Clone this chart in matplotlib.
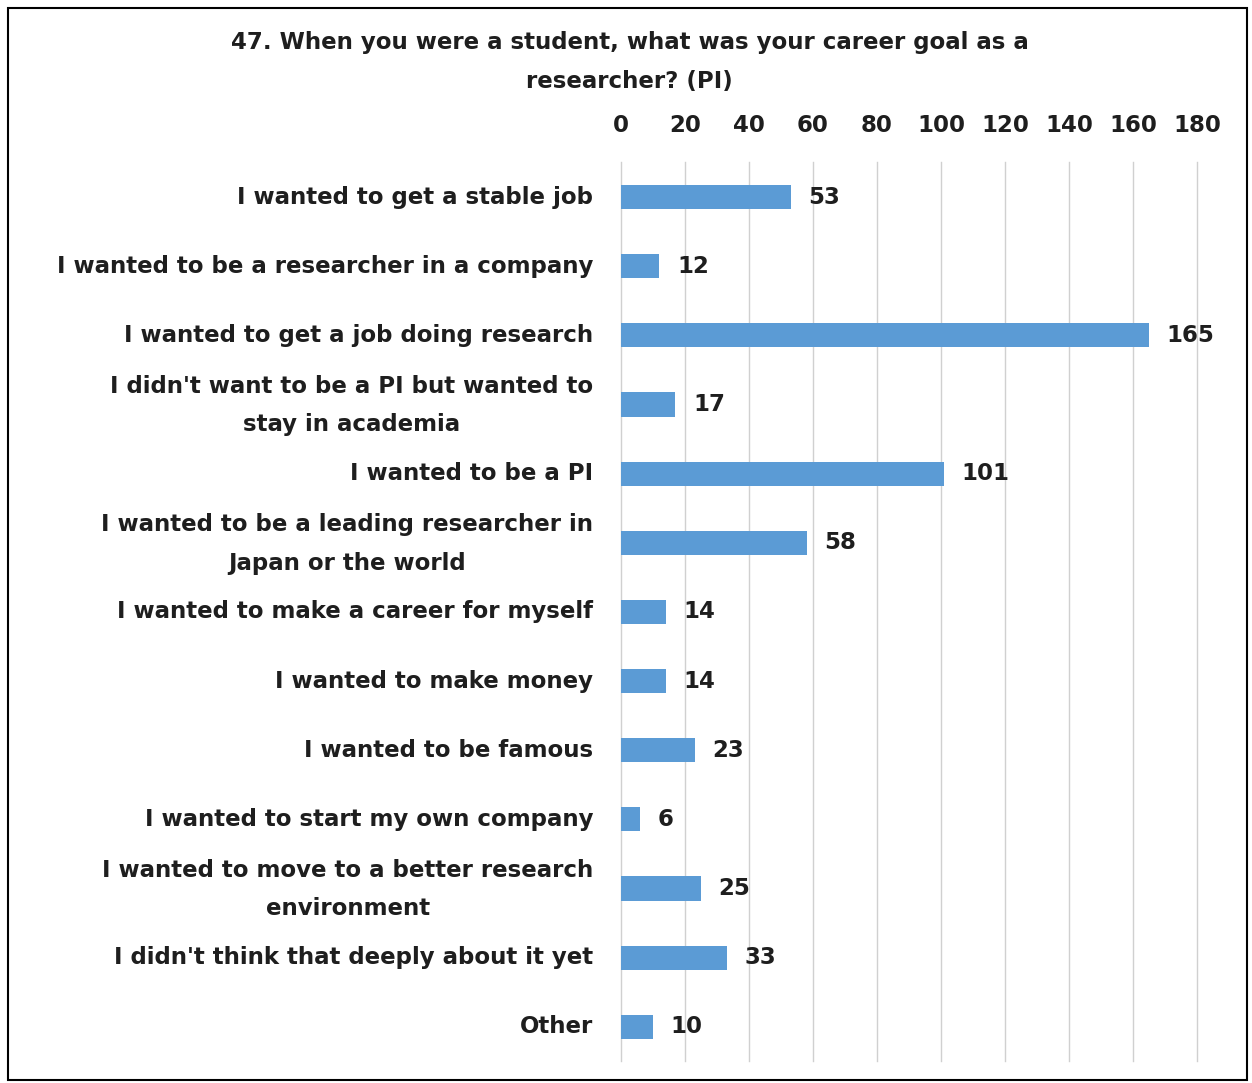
import matplotlib
matplotlib.use("Agg")
import matplotlib.pyplot as plt
from matplotlib.patches import Rectangle
from matplotlib.transforms import ScaledTranslation

# ── data ─────────────────────────────────────────────────────────────────────
categories = [
    "I wanted to get a stable job",
    "I wanted to be a researcher in a company",
    "I wanted to get a job doing research",
    "I didn't want to be a PI but wanted to\nstay in academia",
    "I wanted to be a PI",
    "I wanted to be a leading researcher in\nJapan or the world",
    "I wanted to make a career for myself",
    "I wanted to make money",
    "I wanted to be famous",
    "I wanted to start my own company",
    "I wanted to move to a better research\nenvironment",
    "I didn't think that deeply about it yet",
    "Other",
]
counts = [53, 12, 165, 17, 101, 58, 14, 14, 23, 6, 25, 33, 10]
xticks = [0, 20, 40, 60, 80, 100, 120, 140, 160, 180]
title = "47. When you were a student, what was your career goal as a\nresearcher? (PI)"

BAR = "#5B9BD5"
TXT = "#1e1e1e"
FS = 16.5
plt.rcParams["font.family"] = ["DejaVu Sans"]
plt.rcParams["font.weight"] = "bold"

fig = plt.figure(figsize=(12.52, 10.83), dpi=100)
ax = fig.add_axes([0.496, 0.020, 0.460, 0.830])

y = list(range(len(categories)))
ax.barh(y, counts, height=0.35, color=BAR, zorder=3)
for yi, v in zip(y, counts):
    ax.text(v + 5.5, yi, str(v), va="center", ha="left", fontsize=FS,
            fontweight="bold", color=TXT)

ax.set_xlim(0, 180)
ax.set_ylim(len(categories) - 0.5, -0.5)
ax.set_xticks(xticks)
ax.xaxis.tick_top()
ax.tick_params(axis="x", length=0, labelsize=FS, pad=18, colors=TXT)
ax.tick_params(axis="y", length=0, labelsize=FS, pad=20, colors=TXT)
ax.set_yticks(y)
ax.set_yticklabels(categories, linespacing=1.86, multialignment="center")

# nudge labels up a little, the two-line ones more
for lbl in ax.get_yticklabels():
    dy = 9 if "\n" in lbl.get_text() else 2.5
    lbl.set_transform(lbl.get_transform() + ScaledTranslation(0, dy / 100, fig.dpi_scale_trans))

ax.grid(axis="x", color="#d0d0d0", linewidth=1.0, zorder=0)
for gl in ax.get_xgridlines():
    gl.set_clip_on(False)
for s in ax.spines.values():
    s.set_visible(False)

fig.text(0.503, 0.943, title, ha="center", va="center", fontsize=FS,
         fontweight="bold", linespacing=1.9, color=TXT)

fig.patches.append(Rectangle((0.006, 0.003), 0.99, 0.99, transform=fig.transFigure,
                             fill=False, edgecolor="black", linewidth=1.5))

fig.savefig("out.png", dpi=100)
